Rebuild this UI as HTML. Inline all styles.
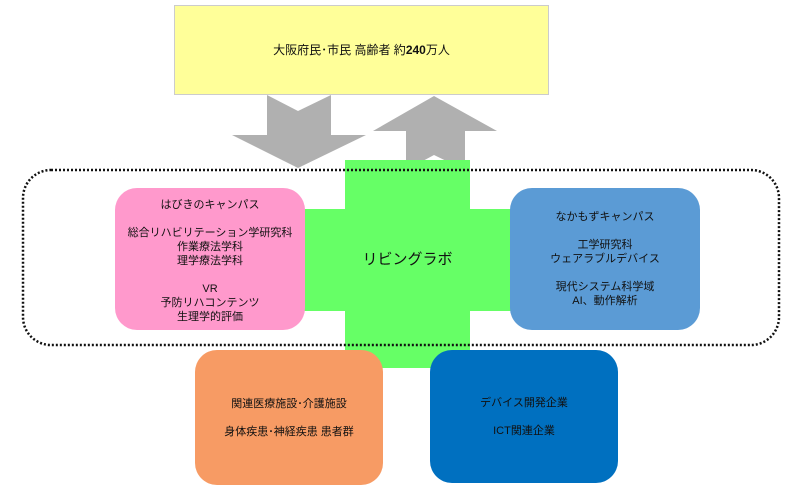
<!DOCTYPE html>
<html><head><meta charset="utf-8"><style>
body{margin:0;width:800px;height:500px;background:#fff;position:relative;overflow:hidden;font-family:"Liberation Sans","Noto Sans CJK JP",sans-serif;color:#111}
.b{position:absolute;display:flex;flex-direction:column;justify-content:center;align-items:center;text-align:center;font-size:11px;line-height:14px;box-sizing:border-box}
</style></head><body>
<div class="b" style="left:174px;top:5px;width:375px;height:90px;background:#ffff99;border:1px solid #ccc;font-size:12px"><span>大阪府民･市民 高齢者 約<b>240</b>万人</span></div>
<svg width="800" height="500" style="position:absolute;left:0;top:0">
<polygon points="267,95 298,111 331,95 331,135 366,135 298,168 232,135 267,135" fill="#b0b0b0"/>
<polygon points="434,96 497,131 465,131 465,170 434,155 406,170 406,131 373,131" fill="#b0b0b0"/>
<rect x="345" y="160" width="125" height="208" fill="#66ff66"/>
<rect x="300" y="209" width="212" height="102" fill="#66ff66"/>
<rect x="23" y="170" width="756" height="175" rx="28" fill="none" stroke="#111" stroke-width="2.5" stroke-dasharray="2,2"/>
</svg>
<div class="b" style="left:115px;top:188px;width:190px;height:142px;background:#ff99cc;border-radius:22px;justify-content:flex-start;padding-top:10px"><span>はびきのキャンパス<br><br>総合リハビリテーション学研究科<br>作業療法学科<br>理学療法学科<br><br>VR<br>予防リハコンテンツ<br>生理学的評価</span></div>
<div class="b" style="left:510px;top:188px;width:190px;height:142px;background:#5b9bd5;border-radius:22px"><span>なかもずキャンパス<br><br>工学研究科<br>ウェアラブルデバイス<br><br>現代システム科学域<br>AI、動作解析</span></div>
<div class="b" style="left:345px;top:250px;width:125px;height:20px;font-size:15px">リビングラボ</div>
<div class="b" style="left:195px;top:350px;width:188px;height:135px;background:#f79b64;border-radius:22px"><span>関連医療施設･介護施設<br><br>身体疾患･神経疾患 患者群</span></div>
<div class="b" style="left:430px;top:350px;width:188px;height:133px;background:#0070c0;border-radius:22px"><span>デバイス開発企業<br><br>ICT関連企業</span></div>
</body></html>
